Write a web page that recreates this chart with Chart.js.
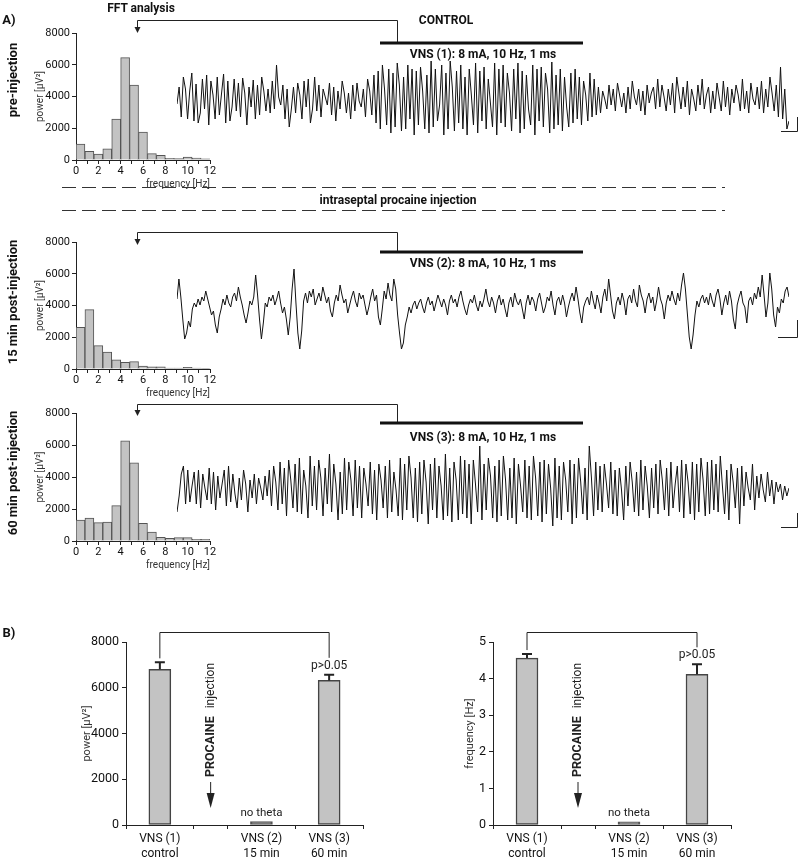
<!DOCTYPE html>
<html>
<head>
<meta charset="utf-8">
<script src="https://cdn.jsdelivr.net/npm/chart.js@4.4.1/dist/chart.umd.min.js"></script>
<style>
body { margin: 0; background: #fff; }
#fig { position: relative; width: 800px; height: 860px; overflow: hidden; font-family: 'Liberation Sans Narrow', Roboto, sans-serif; color: #111; }
#fig canvas { position: absolute; }
.t { position: absolute; white-space: nowrap; font-weight: bold; font-size: 12px; transform: translate(-50%, -50%); }
.rot { transform: translate(-50%, -50%) rotate(-90deg); font-size: 13px; }
svg { position: absolute; left: 0; top: 0; }
</style>
</head>
<body>
<div id="fig">
	<canvas id="h1" width="190" height="167" style="left:30px;top:23px"></canvas>
	<canvas id="h2" width="190" height="167" style="left:30px;top:232px"></canvas>
	<canvas id="h3" width="190" height="168" style="left:30px;top:403px"></canvas>
	<canvas id="tr1" width="612" height="80" style="left:177px;top:59px"></canvas>
	<canvas id="tr2" width="612" height="90" style="left:177px;top:264px"></canvas>
	<canvas id="tr3" width="612" height="82" style="left:177px;top:445px"></canvas>
	<canvas id="bPower" width="315" height="235" style="left:60px;top:625px"></canvas>
	<canvas id="bFreq" width="315" height="235" style="left:430px;top:625px"></canvas>

	<svg width="800" height="860">
		<g stroke="#222" fill="none" stroke-width="1">
			<polyline points="137.5,29 137.5,20.5 397.5,20.5 397.5,42"/>
			<polyline points="137.5,240 137.5,232.5 397.5,232.5 397.5,251"/>
			<polyline points="137.5,411 137.5,404.5 397.5,404.5 397.5,422"/>
			<polyline points="797.5,117 797.5,131.5 781,131.5"/>
			<polyline points="797.5,320 797.5,337.5 778,337.5"/>
			<polyline points="797.5,513 797.5,527.5 781,527.5"/>
		</g>
		<g stroke="#333" stroke-width="1" stroke-dasharray="14 6">
			<line x1="62" y1="187.5" x2="725" y2="187.5"/>
			<line x1="62" y1="210.5" x2="725" y2="210.5"/>
		</g>
		<g stroke="#111" stroke-width="3">
			<line x1="380" y1="43" x2="583" y2="43"/>
			<line x1="380" y1="252" x2="583" y2="252"/>
			<line x1="380" y1="423" x2="583" y2="423"/>
		</g>
		<g fill="#222">
			<polygon points="134.5,27 140.5,27 137.5,33"/>
			<polygon points="134.5,239 140.5,239 137.5,245"/>
			<polygon points="134.5,410 140.5,410 137.5,416"/>
		</g>
	</svg>

	<div class="t" style="left:9px;top:19px;font-size:13px">A)</div>
	<div class="t" style="left:141px;top:8px">FFT analysis</div>
	<div class="t" style="left:446px;top:20px">CONTROL</div>
	<div class="t" style="left:483px;top:54px">VNS (1): 8 mA, 10 Hz, 1 ms</div>
	<div class="t" style="left:398px;top:200px">intraseptal procaine injection</div>
	<div class="t" style="left:483px;top:263px">VNS (2): 8 mA, 10 Hz, 1 ms</div>
	<div class="t" style="left:483px;top:437px">VNS (3): 8 mA, 10 Hz, 1 ms</div>
	<div class="t rot" style="left:12px;top:80px">pre-injection</div>
	<div class="t rot" style="left:12px;top:302px">15 min post-injection</div>
	<div class="t rot" style="left:12px;top:473px">60 min post-injection</div>
	<div class="t" style="left:9px;top:632px;font-size:13px">B)</div>
</div>

<script>
// FFT histograms: bin centres [Hz] and power [µV²]
const freqBins = [0.4, 1.2, 2.0, 2.8, 3.6, 4.4, 5.2, 6.0, 6.8, 7.6, 8.4, 9.2, 10.0, 10.8, 11.6];
const powerPre = [1000, 550, 380, 710, 2580, 6450, 4720, 1760, 400, 300, 105, 85, 180, 120, 80];
const power15 = [2620, 3740, 1470, 1070, 570, 420, 460, 190, 130, 130, 60, 60, 100, 60, 20];
const power60 = [1310, 1440, 1150, 1190, 2210, 6260, 4880, 1100, 550, 230, 170, 210, 210, 110, 110];

// EEG traces (arbitrary units around baseline)
const trace1 = [
	-5, 12, -18, 22, 10, -20, 8, 26, -22, 15, -24, -14, 20, -10, 24, -26, 18, 4, -20, 22,
	-16, 5, 25, -24, 18, -22, -8, 20, -12, 16, -18, 21, 6, -26, 12, -8, 19, -20, 14, -16,
	22, 8, -12, 10, -14, 18, -10, 34, 2, -6, 14, -20, 10, -28, -10,
	12, -14, 16, 4, -20, 18, -8, 20, -24, -10, 22, -12, 14, -18, 10, 2, -6, 16, -16, 12,
	-22, 8, -10, 18, 6, -14, 6, -20, 14, -12, 16, -2, -8, 10, -18, 20, 8, -16, 24,
	-24, 28, -30, 34, 10, -26, 30, -34, 26, -28, 36, 14, -32, 22, -30, 34, -20, 30, -36, 28,
	-26, 32, 8, -30, 24, -34, 38, -28, 30, -22, -6, 34, -36, 26, -30, 38, 12, -32, 28, -24,
	34, -30, 22, -36, 30, 4, -26, 36, -34, 28, -22, 32, -30, 20, -4, -28, 36, -36, 30, -24,
	34, -28, 26, 6, -32, 30, -20, 36, -34, 28, -30, 24, -10, -26, 34, -36, 30, -22, 32, -28,
	26, 10, -34, 37, -30, 24, -26, 30, -32, 22, -8, -28, 26, -24, 30, -20, 22, -26, 18, 4,
	-22, 26, -18, 20, -16,
	12, -14, 8, 0, -10, 14, -6, 10, -12, 16, 4, -8, 6, -14, 12, -10, 18, 2, -6, 10,
	-12, 8, -16, 14, -4, 6, 12, -10, 20, -8, 14, 2, -12, 10, -6, 16, -14, 22, 6, -10,
	12, -8, 18, -16, 10, 0, -12, 14, -6, 20, -10, 4, 12, -14, 8, -10, 16, 2, -12, 18,
	-8, 12, -16, 10, -4, 14, 4, -12, 20, -10, 8, -14, 16, 0, -6, 12, -10, 18, -14, 10,
	-8, 22, 6, -12, 14, -18, 32, -20, 10, -30, -22
];
const trace2 = [
	10, 30, 12, -10, -30, -24, -12, -18, 0, 6, 2, 10, 4, 12, 8, 18, 10, 2, -6, -2,
	-16, -24, -8, 0, 10, 4, 14, 6, 2, 12, 16, 8, 22, 12, 4, -6, -14, -4, 8, 4,
	12, 34, 14, -10, -30, -14, 6, 2, 12, 8, 14, 4, 10, 18, 6, -4, 2, -10, -26, -8,
	20, 40, 6, -24, -40, -22, 8, 16, 6, 18, 12, 20, 4, 10, 16, 8, 22, 14, 6, 12,
	-2, -8, 6, 14, 8, 24, 14, 6, 10, -4, 4, 12, 18, 8, 2, 16, 10, 14, 4, -6,
	2, 12, 20, 8, 14, -8, -16, 0, 18, 10, 26, 14, 8, 30, 20, -6, -24, -40, -34, -16,
	-8, 2, -4, 4, 8, 0, 6, 10, 2, -4, 6, 12, 4, 8, -2, 6, 14, 8, 2, 10,
	4, -6, 8, 14, 6, 10, 2, 12, 18, 8, 0, -6, 4, 10, 6, 14, 4, -2, 8, 2,
	10, 20, 8, 2, 12, 6, -4, 8, 14, 4, 10, 0, -8, 6, 12, 2, 16, 8, 4, 10,
	0, -10, 6, 14, 4, 12, 8, -2, 10, 16, 6, -4, 2, 12, 8, 18, 4, -6, 8, 12,
	4, 14, 6, -8, 2, 10, 16, 8, 22, 10, -4, -14, 2, 8, 12, 4, 18, 8, 0, 14,
	6, -4, 12, 20, 8, 30, 14, -2, -10, 6, 12, 4, 16, 8, -6, 10, 14, 6, 20, 8,
	2, 24, 14, 8, -4, 10, 16, 6, 12, -2, 8, 22, 10, 4, -10, 6, 14, 8, 18, 10,
	4, 16, 8, 24, 36, 20, -4, -28, -40, -26, -6, 8, 2, 10, 14, 6, 12, 4, 16, 8,
	2, 14, 20, 10, -6, 6, 14, 4, 18, 8, -10, -20, 4, 12, 18, 6, 2, -14, 8, 12,
	4, 16, 10, 22, 12, 34, 14, -8, 6, 36, 20, -6, -18, 2, -4, 10, 6, 18, 22, 12
];
const trace3 = [
	-22, -6, 16, 24, -14, 20, -12, 4, 18, -14, 20, -18, 16, 2, -10, 22, -14, 18, -20, 14,
	-8, 6, 20, -16, 24, -12, 16, -4, -18, 12, -10, 20, 6, -22, 10, -8, 16, -14, 12, 2,
	-10, 14, -6, 20, -16, 24, 8, -20, 28, -14, 22, -26, 30, 10, -18, 26, -22, 32, -24, 20,
	4, -28, 34, -16, 24, -20, 30, 12, -26, 22, -14, 36, -22, 26, 6, -30, 18, -24, 32, -20,
	28, 10, -26, 30, -18, 24,
	-28, 22, 6, -16, 28, -24, 20, -30, 26, 10, -18, 24, -28, 30, -22, 18, 0, -26, 32, -30,
	26, -20, 34, 12, -28, 22, -32, 28, -24, 30, 8, -34, 26, -20, 32, -28, 24, 4, -30, 36,
	-26, 22, -32, 28, 10, -30, 34, -24, 30, -28, 26, -34, 30, 6, -22, 44,
	-30, 26, -20, 32, 14, -28, 24, -32, 30, -26, 34, 10, -30, 22, -28, 32, -34, 26, 4, -22,
	30, -28, 24, -30, 34, 12, -26, 28, -32, 30, -24, 26, 2, -36, 32, -28, 24, -30, 28, 10,
	-22, 30, -34, 26, -28, 32, 8, -24, 22, -30, 44, 12, -26, 28, -20, 24,
	-22, 26, 6, -18, 28, -24, 20, -26, 22, 0, -30, 24, -16, 28, 8, -22, 18, -26, 30, -20,
	24, 4, -28, 22, -18, 26, -24, 30, 10, -20, 22, -26, 28, -18, 6, 24, -22, 30, -28, 26,
	8, -24, 28, -30, 26, -22, 32, 10, -26, 28, -24, 30, -20, 26, -22, 34,
	4, -24, 20, -30, 26, 8, -18, 22, -34, 24, -16, 18, 2, -10, 26, -20, 14, -8, 16, 0,
	-12, 18, -6, 10, -14, 8, -2, 6, -10, 4, -6, 2
];

// panel B: group means and SEM
const barSlots = [1, 4, 6];
const procaineSlot = 2.5;
const slotTicks = [0, 1, 2, 3, 4, 5, 6, 7];
const barLabels = [['VNS (1)', 'control'], ['VNS (2)', '15 min'], ['VNS (3)', '60 min']];
const powerMean = [6810, 150, 6320];
const powerSem = [300, 0, 245];
const freqMean = [4.56, 0.09, 4.12];
const freqSem = [0.11, 0, 0.27];

const FONT = "'Liberation Sans Narrow', Roboto, sans-serif";
Chart.defaults.font.family = FONT;
Chart.defaults.color = '#111';

const axisLook = {
	grid: { display: true, drawOnChartArea: false, offset: false, tickLength: 4, color: '#222' },
	border: { color: '#222', width: 1 }
};

function histogram(id, values) {
	return new Chart(document.getElementById(id), {
		type: 'bar',
		data: {
			datasets: [{
				data: freqBins.map((f, i) => ({ x: f, y: values[i] })),
				backgroundColor: '#c3c3c3',
				borderColor: '#555',
				borderWidth: 1,
				barPercentage: 1,
				categoryPercentage: 1
			}]
		},
		options: {
			responsive: false,
			animation: false,
			layout: { padding: { top: 10, right: 10 } },
			plugins: { legend: { display: false }, tooltip: { enabled: false } },
			scales: {
				x: {
					type: 'linear', min: 0, max: 12, offset: false, ...axisLook,
					ticks: { stepSize: 1, autoSkip: false, maxRotation: 0, padding: 1, font: { size: 11 },
						callback: v => (v % 2 === 0 ? v : '') },
					title: { display: true, text: 'frequency [Hz]', align: 'end', padding: 0, font: { size: 10 }, color: '#333' },
					afterFit: s => { s.height = 30; }
				},
				y: {
					min: 0, max: 8000, ...axisLook,
					ticks: { stepSize: 1000, padding: 2, font: { size: 11 },
						callback: v => (v % 2000 === 0 ? v : '') },
					title: { display: true, text: 'power [µV²]', padding: { top: 4, bottom: 0 }, font: { size: 10 }, color: '#333' },
					afterFit: s => { s.width = 46; }
				}
			}
		}
	});
}

function trace(id, values, lo, hi) {
	return new Chart(document.getElementById(id), {
		type: 'line',
		data: {
			labels: values.map((_, i) => i),
			datasets: [{ data: values, borderColor: '#111', borderWidth: 1, pointRadius: 0, tension: 0 }]
		},
		options: {
			responsive: false,
			animation: false,
			layout: { padding: 0 },
			plugins: { legend: { display: false }, tooltip: { enabled: false } },
			scales: { x: { display: false }, y: { display: false, min: lo, max: hi } }
		}
	});
}

function summary(id, cfg) {
	const annot = {
		id: 'annot',
		afterDatasetsDraw(chart) {
			const { ctx, chartArea: a, scales: { x, y } } = chart;
			ctx.save();
			ctx.strokeStyle = '#222';
			ctx.fillStyle = '#222';

			// error bars
			ctx.lineWidth = 2;
			cfg.mean.forEach((m, i) => {
				if (!cfg.sem[i]) return;
				const px = x.getPixelForValue(barSlots[i]);
				const top = y.getPixelForValue(m), cap = y.getPixelForValue(m + cfg.sem[i]);
				ctx.beginPath();
				ctx.moveTo(px, top); ctx.lineTo(px, cap);
				ctx.moveTo(px - 5, cap); ctx.lineTo(px + 5, cap);
				ctx.stroke();
			});

			// comparison bracket and p value
			const x1 = x.getPixelForValue(barSlots[0]), x3 = x.getPixelForValue(barSlots[2]);
			const cap1 = y.getPixelForValue(cfg.mean[0] + cfg.sem[0]);
			const cap3 = y.getPixelForValue(cfg.mean[2] + cfg.sem[2]);
			const by = Math.round(a.top - 10) + 0.5;
			ctx.lineWidth = 1;
			ctx.beginPath();
			ctx.moveTo(x1, cap1 - 4); ctx.lineTo(x1, by); ctx.lineTo(x3, by); ctx.lineTo(x3, cap3 - 17);
			ctx.stroke();
			ctx.textAlign = 'center';
			ctx.textBaseline = 'middle';
			ctx.font = '12px ' + FONT;
			ctx.fillText('p>0.05', x3, cap3 - 9);
			ctx.font = '11.5px ' + FONT;
			ctx.fillText('no theta', x.getPixelForValue(barSlots[1]), y.getPixelForValue(0) - 12);

			// procaine injection arrow
			const xp = x.getPixelForValue(procaineSlot);
			ctx.beginPath();
			ctx.moveTo(xp, a.top + 140); ctx.lineTo(xp, a.top + 154);
			ctx.stroke();
			ctx.beginPath();
			ctx.moveTo(xp - 4, a.top + 151); ctx.lineTo(xp + 4, a.top + 151); ctx.lineTo(xp, a.top + 166);
			ctx.closePath();
			ctx.fill();

			ctx.translate(xp, a.top + 78);
			ctx.rotate(-Math.PI / 2);
			ctx.textAlign = 'left';
			ctx.font = 'bold 12.5px ' + FONT;
			const w1 = ctx.measureText('PROCAINE').width;
			ctx.font = '12px ' + FONT;
			const w2 = ctx.measureText('injection').width;
			const start = -(w1 + 8 + w2) / 2;
			ctx.font = 'bold 12.5px ' + FONT;
			ctx.fillText('PROCAINE', start, 0);
			ctx.font = '12px ' + FONT;
			ctx.fillText('injection', start + w1 + 8, 0);
			ctx.restore();
		}
	};

	return new Chart(document.getElementById(id), {
		type: 'bar',
		data: {
			datasets: [{
				data: barSlots.map((s, i) => ({ x: s, y: cfg.mean[i] })),
				backgroundColor: ['#c3c3c3', '#666', '#c3c3c3'],
				borderColor: ['#444', '#555', '#444'],
				borderWidth: 1.5,
				borderSkipped: false,
				barThickness: 22
			}]
		},
		options: {
			responsive: false,
			animation: false,
			layout: { padding: { top: 17, right: cfg.padRight } },
			plugins: { legend: { display: false }, tooltip: { enabled: false } },
			scales: {
				x: {
					type: 'linear', min: 0, max: 7, offset: false, ...axisLook,
					grid: { ...axisLook.grid, tickColor: c => (c.tick && barSlots.includes(c.tick.value) ? 'rgba(0,0,0,0)' : '#222') },
					afterBuildTicks: s => { s.ticks = slotTicks.map(v => ({ value: v })); },
					ticks: { autoSkip: false, maxRotation: 0, padding: 3, font: { size: 12 },
						callback: v => { const i = barSlots.indexOf(v); return i < 0 ? '' : barLabels[i]; } },
					afterFit: s => { s.height = 35; }
				},
				y: {
					min: 0, max: cfg.max, ...axisLook,
					ticks: { stepSize: cfg.step, padding: 3, font: { size: 12.5 }, callback: v => String(v) },
					title: { display: true, text: cfg.title, padding: { top: cfg.titlePad, bottom: 0 }, font: { size: 11 }, color: '#333' },
					afterFit: s => { s.width = cfg.axisWidth; }
				}
			}
		},
		plugins: [annot]
	});
}

histogram('h1', powerPre);
histogram('h2', power15);
histogram('h3', power60);

trace('tr1', trace1, -40, 40);
trace('tr2', trace2, -45, 45);
trace('tr3', trace3, -37, 45);

summary('bPower', { mean: powerMean, sem: powerSem, max: 8000, step: 2000, title: 'power [µV²]', titlePad: 21, axisWidth: 66, padRight: 12 });
summary('bFreq', { mean: freqMean, sem: freqSem, max: 5, step: 1, title: 'frequency [Hz]', titlePad: 34, axisWidth: 63, padRight: 14 });
</script>
</body>
</html>
